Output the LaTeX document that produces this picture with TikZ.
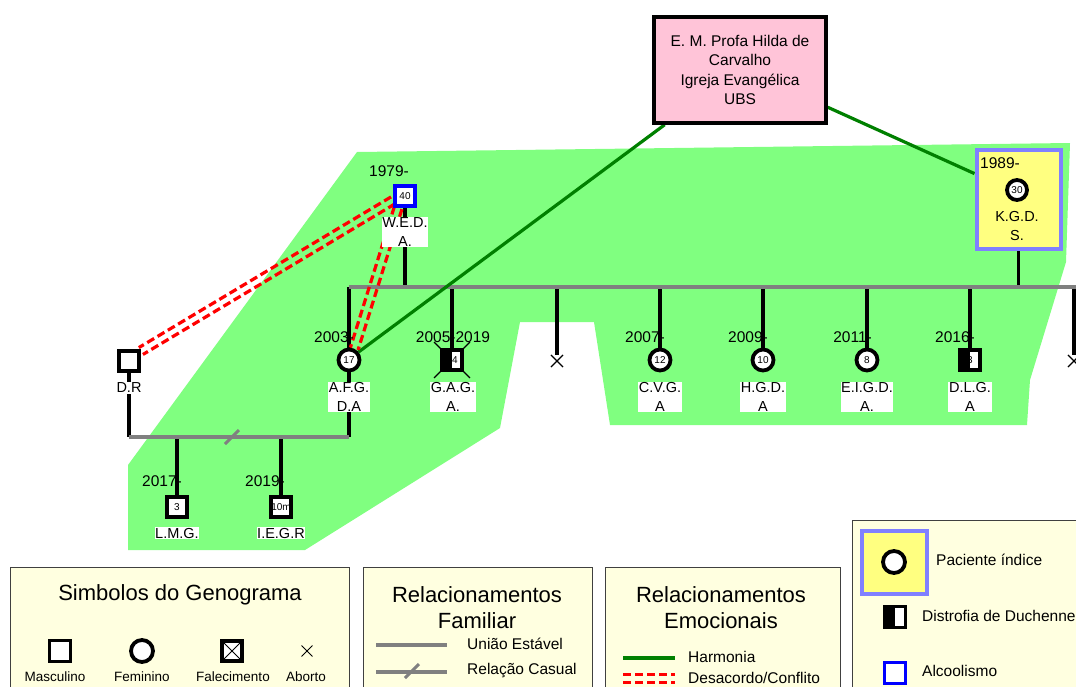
\documentclass[tikz,border=0pt]{standalone}
\usepackage{fontspec}
\setmainfont{Liberation Sans}
\usetikzlibrary{calc,shapes.misc}
\pgfdeclarelayer{bg}
\pgfdeclarelayer{lines}
\pgfsetlayers{bg,lines,main}
\definecolor{gbg}{RGB}{128,255,128}
\definecolor{hgreen}{RGB}{0,128,0}
\definecolor{lgray}{RGB}{128,128,128}
\definecolor{pinkf}{RGB}{255,196,216}
\definecolor{idxfill}{RGB}{255,255,128}
\definecolor{idxborder}{RGB}{128,128,255}
\definecolor{legfill}{RGB}{255,255,224}
\newcommand\fsz[2]{\fontsize{#1}{#2}\selectfont}
\newcommand\conflictline[2]{%
  \draw[confl] ($(#1)!4pt!90:(#2)$) -- ($(#2)!4pt!-90:(#1)$);
  \draw[confl] ($(#1)!4pt!-90:(#2)$) -- ($(#2)!4pt!90:(#1)$);}
\begin{document}
\begin{tikzpicture}[x=1pt,y=-1pt,
  lbl/.style={font=\fsz{14.5}{19.5}, fill=white, inner sep=0.6pt, align=center},
  yr/.style={font=\fsz{15.5}{18}, inner sep=0pt},
  male/.style={draw, line width=3.8pt, fill=white, minimum size=20pt, inner sep=0pt, font=\fsz{10}{11}},
  female/.style={circle, draw, line width=3.8pt, fill=white, minimum size=21pt, inner sep=0pt, font=\fsz{10}{11}},
  duch/.style={male, fill=black, path picture={\fill[white] (path picture bounding box.north) rectangle (path picture bounding box.south east);}},
  alco/.style={male, draw=blue},
  abort/.style={draw, cross out, line width=1.1pt, minimum size=11pt, inner sep=0pt},
  kin/.style={line width=3.6pt, black},
  union/.style={line width=4pt, lgray},
  harm/.style={line width=3.2pt, hgreen},
  confl/.style={line width=3.2pt, red, dash pattern=on 8pt off 4pt},
  legbox/.style={draw=black!75, line width=1.2pt, fill=legfill, anchor=north west},
  legt/.style={font=\fsz{22}{25.5}, align=center},
  legi/.style={font=\fsz{15.5}{18}, anchor=west, inner sep=0pt},
  legs/.style={font=\fsz{13.5}{15}, inner sep=0pt}]
\useasboundingbox (0,0) rectangle (1076,686);
\clip (0,0) rectangle (1076,686);
\begin{pgfonlayer}{bg}
\fill[white] (0,0) rectangle (1076,686);
\fill[gbg] (357,152) -- (1070,143) -- (1066,262) -- (1030,380) -- (1027,425) -- (610,425) -- (594,322) -- (520,322) -- (500,428) -- (305,550) -- (128,550) -- (128,465) -- cycle;
\end{pgfonlayer}

% community box
\node[draw, line width=3.5pt, fill=pinkf, minimum width=172pt, minimum height=106pt, align=center, font=\fsz{15.5}{19.5}] (cmt) at (740,70) {E. M. Profa Hilda de\\Carvalho\\Igreja Evangélica\\UBS};

% parents
\node[alco] (wed) at (405,196) {40};
\node[yr, anchor=east] (ywed) at (409,171) {1979-};
\node[lbl] (lwed) at (405,232) {W.E.D.\\A.};
\node[draw=idxborder, line width=4pt, fill=idxfill, minimum width=84pt, minimum height=99pt] (kbox) at (1018.5,199) {};
\node[yr, anchor=west] (ykgd) at (980,163) {1989-};
\node[female, minimum size=20pt] (kgd) at (1017,190) {30};
\node[font=\fsz{14.5}{19.5}, align=center] (lkgd) at (1017,226) {K.G.D.\\S.};
\coordinate (jw) at (405,287);
\coordinate (lineR) at (1080,287);

% children
\node[female] (afg) at (349,360) {17};
\node[duch] (gag) at (452,360) {14};
\node[abort] (ab1) at (557,361) {};
\node[female] (cvg) at (660,360) {12};
\node[female] (hgd) at (763,360) {10};
\node[female] (eigd) at (867,360) {8};
\node[duch] (dlg) at (970,360) {3};
\node[abort] (ab2) at (1074,361) {};

\node[yr, anchor=east] (yafg) at (354,337) {2003-};
\node[yr] (ygag) at (453,337) {2005-2019};
\node[yr, anchor=east] (ycvg) at (665,337) {2007-};
\node[yr, anchor=east] (yhgd) at (768,337) {2009-};
\node[yr, anchor=east] (yeigd) at (872,337) {2011-};
\node[yr, anchor=east] (ydlg) at (975,337) {2016-};

\node[lbl] (lafg) at (349,397) {A.F.G.\\D.A};
\node[lbl] (lgag) at (453,397) {G.A.G.\\A.};
\node[lbl] (lcvg) at (660,397) {C.V.G.\\A};
\node[lbl] (lhgd) at (763,397) {H.G.D.\\A};
\node[lbl] (leigd) at (867,397) {E.I.G.D.\\A.};
\node[lbl] (ldlg) at (970,397) {D.L.G.\\A};

% D.R and grandchildren
\node[male] (dr) at (129,361) {};
\node[lbl] (ldr) at (129,388) {D.R};
\coordinate (cl) at (129,437);
\coordinate (cs) at (232,437);
\node[male] (lmg) at (177,507) {3};
\node[male] (iegr) at (281,507) {10m};
\node[yr, anchor=east] (ylmg) at (182,481) {2017-};
\node[yr, anchor=east] (yiegr) at (285,481) {2019-};
\node[lbl] (llmg) at (177,533) {L.M.G.};
\node[lbl] (liegr) at (281,533) {I.E.G.R};

\begin{pgfonlayer}{lines}
\draw[kin] (wed) -- (jw);
\draw[kin] (kbox) -- (kbox |- jw);
\foreach \n in {afg,gag,cvg,hgd,eigd,dlg} {\draw[kin] (\n |- jw) -- (\n.center);}
\draw[kin] (ab1 |- jw) -- (ab1.north);
\draw[kin] (ab2 |- jw) -- (ab2.north);
\draw[union] (afg |- jw) -- (lineR);
\draw[line width=1.1pt] ($(gag.north west)+(-6,-6)$) -- ($(gag.south east)+(6,6)$);
\draw[line width=1.1pt] ($(gag.north east)+(6,-6)$) -- ($(gag.south west)+(-6,6)$);
\draw[kin] (dr.center) -- (dr |- cl);
\draw[kin] (afg.center) -- (afg |- cl);
\draw[kin] (lmg |- cl) -- (lmg.center);
\draw[kin] (iegr |- cl) -- (iegr.center);
\draw[union] (dr |- cl) -- (afg |- cl);
\draw[union, line width=3pt] ($(cs)+(-7,7)$) -- ($(cs)+(7,-7)$);
\draw[harm] (afg.40) -- (cmt.216);
\draw[harm] (cmt.-23) -- (kbox.150);
\conflictline{wed.200}{dr.40}
\conflictline{wed.240}{afg.65}
\end{pgfonlayer}

% legend 1
\node[legbox, minimum width=339pt, minimum height=130pt] (leg1) at (10,567) {};
\node[legt] (leg1t) at (180,595) {Simbolos do Genograma};
\node[male, minimum size=21pt] (lgm) at (60,651) {};
\node[female, minimum size=22pt] (lgf) at (142,651) {};
\node[male, minimum size=20pt, path picture={\draw[line width=0.8pt] (path picture bounding box.north west) -- (path picture bounding box.south east) (path picture bounding box.north east) -- (path picture bounding box.south west);}] (lgd) at (232,651) {};
\node[abort, line width=0.9pt, minimum size=10pt] (lga) at (307,651) {};
\node[legs] (lgmt) at (55,677) {Masculino};
\node[legs] (lgft) at (142,677) {Feminino};
\node[legs] (lgdt) at (233,677) {Falecimento};
\node[legs] (lgat) at (306,677) {Aborto};

% legend 2
\node[legbox, minimum width=229pt, minimum height=130pt] (leg2) at (363,567) {};
\node[legt] (leg2t) at (477,607.5) {Relacionamentos\\Familiar};
\coordinate (ua) at (376,645); \coordinate (ub) at (447,645);
\draw[union] (ua) -- (ub);
\node[legi] (lut) at (467,644) {União Estável};
\coordinate (ra) at (376,672); \coordinate (rb) at (447,672); \coordinate (rs) at (412,671);
\draw[union] (ra) -- (rb);
\draw[union, line width=3pt] ($(rs)+(-7,7)$) -- ($(rs)+(7,-7)$);
\node[legi] (lrt) at (467,671) {Relação Casual};

% legend 3
\node[legbox, minimum width=235pt, minimum height=130pt] (leg3) at (605,567) {};
\node[legt] (leg3t) at (721,607.5) {Relacionamentos\\Emocionais};
\coordinate (ha) at (623,658); \coordinate (hb) at (675,658);
\draw[harm] (ha) -- (hb);
\node[legi] (lht) at (688,657) {Harmonia};
\coordinate (ca) at (623,678.5); \coordinate (cb) at (675,678.5);
\conflictline{ca}{cb}
\node[legi] (lct) at (688,678) {Desacordo/Conflito};

% legend 4
\node[legbox, minimum width=240pt, minimum height=180pt] (leg4) at (852,520) {};
\node[draw=idxborder, line width=4pt, fill=idxfill, minimum width=65pt, minimum height=63pt] (lgi) at (894,562) {};
\node[female, minimum size=22pt] (lgic) at (894,562) {};
\node[legi] (lit) at (936,560) {Paciente índice};
\node[duch, minimum size=21pt] (lgdu) at (895,617) {};
\node[legi] (ldt) at (922,616) {Distrofia de Duchenne};
\node[alco, minimum size=21pt] (lgal) at (895,673) {};
\node[legi] (lat) at (922,671) {Alcoolismo};
\end{tikzpicture}
\end{document}
